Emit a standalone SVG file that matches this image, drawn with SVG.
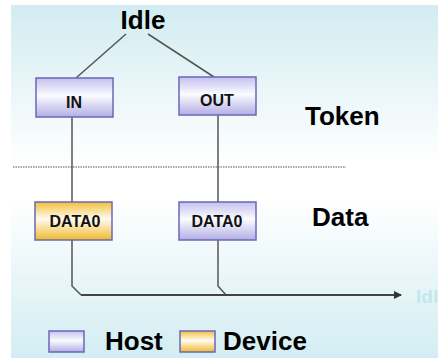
<svg xmlns="http://www.w3.org/2000/svg" width="438" height="358" viewBox="0 0 438 358">
<defs>
<linearGradient id="bg" x1="0" y1="0" x2="0" y2="1">
<stop offset="0" stop-color="#d2ecf1"/>
<stop offset="0.45" stop-color="#ffffff"/>
<stop offset="0.55" stop-color="#ffffff"/>
<stop offset="1" stop-color="#d3edf2"/>
</linearGradient>
<linearGradient id="host" x1="0" y1="0" x2="0" y2="1">
<stop offset="0" stop-color="#c4c0ee"/>
<stop offset="0.45" stop-color="#fbfbff"/>
<stop offset="1" stop-color="#b2aee4"/>
</linearGradient>
<linearGradient id="dev" x1="0" y1="0" x2="0" y2="1">
<stop offset="0" stop-color="#f2c03a"/>
<stop offset="0.45" stop-color="#fffbf0"/>
<stop offset="1" stop-color="#efba2c"/>
</linearGradient>
<marker id="arr" markerWidth="8" markerHeight="8" refX="7" refY="4" orient="auto" markerUnits="userSpaceOnUse">
<path d="M0,0 L8,4 L0,8 Z" fill="#333"/>
</marker>
<style>
.box{stroke:#6b67bb;stroke-width:1.5}
.h{fill:url(#host)}
.d{fill:url(#dev)}
.lbl{font-family:"Liberation Sans",Arial,sans-serif;font-size:16px;font-weight:bold;fill:#111;text-anchor:middle}
.big{font-family:"Liberation Sans",Arial,sans-serif;font-weight:bold;font-size:26px;fill:#000}
.ln{stroke:#555;stroke-width:1.5;fill:none}
</style>
</defs>
<rect x="11" y="5" width="427" height="353" fill="url(#bg)"/>
<g id="connectors">
<line class="ln" x1="126" y1="34" x2="76" y2="78"/>
<line class="ln" x1="148" y1="34" x2="214" y2="77"/>
<line class="ln" x1="72" y1="117" x2="72" y2="202"/>
<line class="ln" x1="218" y1="115" x2="218" y2="202"/>
<path class="ln" d="M72,240 L72,286 L81,295"/>
<path class="ln" d="M218,240 L218,286 L226,295"/>
<line x1="81" y1="295" x2="401" y2="295" stroke="#444" stroke-width="2" marker-end="url(#arr)"/>
</g>
<line id="divider" x1="13" y1="167" x2="346" y2="167" stroke="#555" stroke-width="1.2" stroke-dasharray="1.5,1"/>
<g id="idle"><text class="big" x="143" y="29" text-anchor="middle">Idle</text></g>
<g id="in"><rect class="box h" x="36" y="78" width="77" height="39"/><text class="lbl" x="74" y="108">IN</text></g>
<g id="out"><rect class="box h" x="179" y="77" width="77" height="38"/><text class="lbl" x="217" y="106">OUT</text></g>
<g id="data0-dev"><rect class="box d" x="35" y="202" width="77" height="38"/><text class="lbl" x="75" y="227">DATA0</text></g>
<g id="data0-host"><rect class="box h" x="179" y="202" width="77" height="38"/><text class="lbl" x="217" y="227">DATA0</text></g>
<text class="big" x="305" y="125">Token</text>
<text class="big" x="312" y="226">Data</text>
<text x="416" y="303" font-family="Liberation Sans,Arial,sans-serif" font-weight="bold" font-size="19" fill="#c4e7ee">Idle</text>
<g id="legend">
<rect class="box h" x="49" y="331" width="35" height="21"/>
<text class="big" x="105" y="350">Host</text>
<rect class="box d" x="180" y="331" width="35" height="21"/>
<text class="big" x="223" y="350">Device</text>
</g>
</svg>
